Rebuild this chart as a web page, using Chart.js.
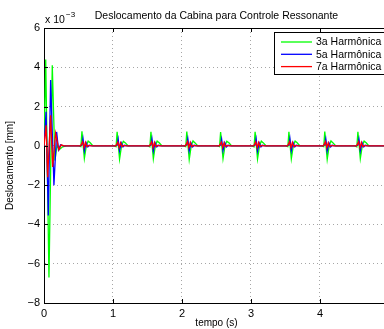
<!DOCTYPE html>
<html>
<head>
<meta charset="utf-8">
<script src="https://cdn.jsdelivr.net/npm/chart.js@4"></script>
<style>
  html, body { margin: 0; padding: 0; background: #fff; overflow: hidden; }
  #caixa { width: 396px; height: 329px; position: relative; }
</style>
</head>
<body>
<div id="caixa"><canvas id="miGrafico"></canvas></div>
<script>
const contenedor = document.getElementById("miGrafico");

// tempo (s) e deslocamento (x 10^-3 mm)
let tVerde = [0, 0.025, 0.072, 0.12, 0.158, 0.19, 0.22, 0.27, 0.33,
    0.50, 0.535, 0.55, 0.585, 0.615, 0.64, 0.67, 0.71,
    1.01, 1.045, 1.06, 1.095, 1.125, 1.15, 1.18, 1.22,
    1.50, 1.535, 1.55, 1.585, 1.615, 1.64, 1.67, 1.71,
    2.02, 2.055, 2.07, 2.105, 2.135, 2.16, 2.19, 2.23,
    2.51, 2.545, 2.56, 2.595, 2.625, 2.65, 2.68, 2.72,
    3.01, 3.045, 3.06, 3.095, 3.125, 3.15, 3.18, 3.22,
    3.50, 3.535, 3.55, 3.585, 3.615, 3.64, 3.67, 3.71,
    4.02, 4.055, 4.07, 4.105, 4.135, 4.16, 4.19, 4.23,
    4.50, 4.535, 4.55, 4.585, 4.615, 4.64, 4.67, 4.71,
    5.0];
let yVerde = [0, 4.4, -6.7, 4.1, -0.75, 0.05, -0.2, -0.05, 0,
    0, -0.04, 0.74, -0.64, 0.03, 0.24, 0.16, 0,
    0, -0.04, 0.71, -0.68, 0.02, 0.23, 0.15, 0,
    0, -0.05, 0.72, -0.66, 0.03, 0.24, 0.16, 0,
    0, -0.04, 0.73, -0.70, 0.02, 0.25, 0.15, 0,
    0, -0.04, 0.70, -0.65, 0.03, 0.23, 0.16, 0,
    0, -0.05, 0.72, -0.67, 0.02, 0.24, 0.15, 0,
    0, -0.04, 0.71, -0.66, 0.03, 0.24, 0.16, 0,
    0, -0.04, 0.73, -0.69, 0.02, 0.25, 0.15, 0,
    0, -0.05, 0.72, -0.65, 0.03, 0.24, 0.16, 0,
    0];

let tAzul = [0, 0.03, 0.062, 0.096, 0.144, 0.183, 0.21, 0.24, 0.28,
    0.52, 0.55, 0.565, 0.585, 0.61, 0.635, 0.66, 0.70,
    1.03, 1.06, 1.075, 1.095, 1.12, 1.145, 1.17, 1.21,
    1.52, 1.55, 1.565, 1.585, 1.61, 1.635, 1.66, 1.70,
    2.04, 2.07, 2.085, 2.105, 2.13, 2.155, 2.18, 2.22,
    2.53, 2.56, 2.575, 2.595, 2.62, 2.645, 2.67, 2.71,
    3.03, 3.06, 3.075, 3.095, 3.12, 3.145, 3.17, 3.21,
    3.52, 3.55, 3.565, 3.585, 3.61, 3.635, 3.66, 3.70,
    4.04, 4.07, 4.085, 4.105, 4.13, 4.155, 4.18, 4.22,
    4.52, 4.55, 4.565, 4.585, 4.61, 4.635, 4.66, 4.70,
    5.0];
let yAzul = [0, 1.73, -3.55, 3.35, -2.0, 0.71, -0.2, 0.05, 0,
    0, 0.04, 0.36, -0.26, 0.16, -0.05, 0.03, 0,
    0, 0.04, 0.34, -0.24, 0.15, -0.05, 0.03, 0,
    0, 0.04, 0.35, -0.26, 0.16, -0.05, 0.03, 0,
    0, 0.05, 0.36, -0.25, 0.15, -0.05, 0.03, 0,
    0, 0.04, 0.33, -0.24, 0.16, -0.05, 0.03, 0,
    0, 0.04, 0.35, -0.26, 0.15, -0.05, 0.03, 0,
    0, 0.04, 0.36, -0.25, 0.16, -0.05, 0.03, 0,
    0, 0.05, 0.35, -0.26, 0.15, -0.05, 0.03, 0,
    0, 0.04, 0.34, -0.25, 0.16, -0.05, 0.03, 0,
    0];

let tVermelho = [0, 0.03, 0.053, 0.096, 0.125, 0.168, 0.216, 0.25, 0.29,
    0.53, 0.56, 0.58, 0.60, 0.62, 0.645, 0.68,
    1.04, 1.07, 1.09, 1.11, 1.13, 1.155, 1.19,
    1.53, 1.56, 1.58, 1.60, 1.62, 1.645, 1.68,
    2.05, 2.08, 2.10, 2.12, 2.14, 2.165, 2.20,
    2.54, 2.57, 2.59, 2.61, 2.63, 2.655, 2.69,
    3.04, 3.07, 3.09, 3.11, 3.13, 3.155, 3.19,
    3.53, 3.56, 3.58, 3.60, 3.62, 3.645, 3.68,
    4.05, 4.08, 4.10, 4.12, 4.14, 4.165, 4.20,
    4.53, 4.56, 4.58, 4.60, 4.62, 4.645, 4.68,
    5.0];
let yVermelho = [0, 1.05, -1.6, 1.56, -1.07, 0.64, -0.2, 0.05, 0,
    0, 0.2, -0.08, 0.17, -0.03, 0.02, 0,
    0, 0.19, -0.08, 0.16, -0.03, 0.02, 0,
    0, 0.2, -0.09, 0.17, -0.03, 0.02, 0,
    0, 0.21, -0.08, 0.17, -0.03, 0.02, 0,
    0, 0.19, -0.08, 0.16, -0.03, 0.02, 0,
    0, 0.2, -0.09, 0.17, -0.03, 0.02, 0,
    0, 0.2, -0.08, 0.17, -0.03, 0.02, 0,
    0, 0.21, -0.08, 0.16, -0.03, 0.02, 0,
    0, 0.2, -0.09, 0.17, -0.03, 0.02, 0,
    0];

let rotulos = ['3a Harmônica', '5a Harmônica', '7a Harmônica'];
let cores = ['#00ff00', '#0000ff', '#ff0000'];
let titulo = 'Deslocamento da Cabina para Controle Ressonante';

const fonte = 'Liberation Sans, Arial, sans-serif';

function pontos(ts, ys) {
    return ts.map((t, i) => ({ x: t, y: ys[i] }));
}

// legenda dentro do grafico, caixa com bordas como no matlab
const legendaCaixa = {
    id: 'legendaCaixa',
    afterDraw(chart) {
        const ctx = chart.ctx;
        const x0 = 274.5, y0 = 32.5, w = 130, h = 42;
        ctx.save();
        ctx.fillStyle = '#fff';
        ctx.fillRect(x0, y0, w, h);
        ctx.strokeStyle = '#000';
        ctx.lineWidth = 1;
        ctx.strokeRect(x0, y0, w, h);
        ctx.font = '10.5px ' + fonte;
        ctx.textBaseline = 'middle';
        ctx.fillStyle = '#000';
        rotulos.forEach((r, i) => {
            const yy = 42 + i * 12.3;
            ctx.strokeStyle = cores[i];
            ctx.lineWidth = 1.3;
            ctx.beginPath();
            ctx.moveTo(281, yy);
            ctx.lineTo(312, yy);
            ctx.stroke();
            ctx.fillText(r, 316, yy + 0.5);
        });
        ctx.restore();
    }
};

// titulo centrado na area do grafico, borda superior, marcas para dentro e fator x 10^-3
const eixosMatlab = {
    id: 'eixosMatlab',
    afterDatasetsDraw(chart) {
        const ctx = chart.ctx;
        const a = chart.chartArea;
        const sx = chart.scales.x, sy = chart.scales.y;
        ctx.save();
        ctx.strokeStyle = '#000';
        ctx.lineWidth = 1;
        ctx.beginPath();
        ctx.moveTo(a.left, a.top + 0.5);
        ctx.lineTo(a.right, a.top + 0.5);
        sx.ticks.forEach(t => {
            const px = Math.round(sx.getPixelForValue(t.value)) + 0.5;
            ctx.moveTo(px, a.bottom);
            ctx.lineTo(px, a.bottom - 4);
            ctx.moveTo(px, a.top);
            ctx.lineTo(px, a.top + 4);
        });
        sy.ticks.forEach(t => {
            const py = Math.round(sy.getPixelForValue(t.value)) + 0.5;
            ctx.moveTo(a.left, py);
            ctx.lineTo(a.left + 4, py);
        });
        ctx.stroke();
        ctx.fillStyle = '#000';
        ctx.textBaseline = 'middle';
        ctx.textAlign = 'center';
        ctx.font = '10.5px ' + fonte;
        ctx.fillText(titulo, (a.left + a.right) / 2, 16);
        ctx.textAlign = 'left';
        ctx.textBaseline = 'alphabetic';
        ctx.fillText('x 10', 45, 23);
        ctx.font = '8px ' + fonte;
        ctx.fillText('\u22123', 66, 17);
        ctx.restore();
    }
};

const miGrafico = new Chart(contenedor, {
    type: 'line',
    data: {
        datasets: [
            { label: rotulos[0], data: pontos(tVerde, yVerde), borderColor: cores[0], order: 3 },
            { label: rotulos[1], data: pontos(tAzul, yAzul), borderColor: cores[1], order: 2 },
            { label: rotulos[2], data: pontos(tVermelho, yVermelho), borderColor: cores[2], order: 1 }
        ]
    },
    options: {
        responsive: true,
        maintainAspectRatio: false,
        animation: false,
        layout: { padding: { left: 0, right: 0, top: 28, bottom: 0 } },
        elements: {
            point: { radius: 0 },
            line: { borderWidth: 1.3, tension: 0 }
        },
        plugins: {
            legend: { display: false },
            tooltip: { enabled: false },
            title: { display: false }
        },
        scales: {
            x: {
                type: 'linear',
                min: 0,
                max: 5,
                ticks: { stepSize: 1, color: '#000', padding: 4, font: { family: fonte, size: 11 } },
                grid: { color: 'rgba(0,0,0,0.35)', drawTicks: false },
                border: { display: true, color: '#000', width: 1, dash: [1, 3] },
                title: { display: true, text: 'tempo (s)', color: '#000', padding: 0, font: { family: fonte, size: 10 } },
                afterFit(scale) { scale.height = 26; }
            },
            y: {
                min: -8,
                max: 6,
                ticks: {
                    stepSize: 2, color: '#000', padding: 4, font: { family: fonte, size: 11 },
                    callback: v => String(v).replace('-', '\u2212')
                },
                grid: { color: 'rgba(0,0,0,0.35)', drawTicks: false },
                border: { display: true, color: '#000', width: 1, dash: [1, 3] },
                title: { display: true, text: 'Deslocamento [mm]', color: '#000', padding: { top: 4, bottom: 0 }, font: { family: fonte, size: 10 } },
                afterFit(scale) { scale.width = 44; }
            }
        }
    },
    plugins: [eixosMatlab, legendaCaixa]
});
</script>
</body>
</html>
